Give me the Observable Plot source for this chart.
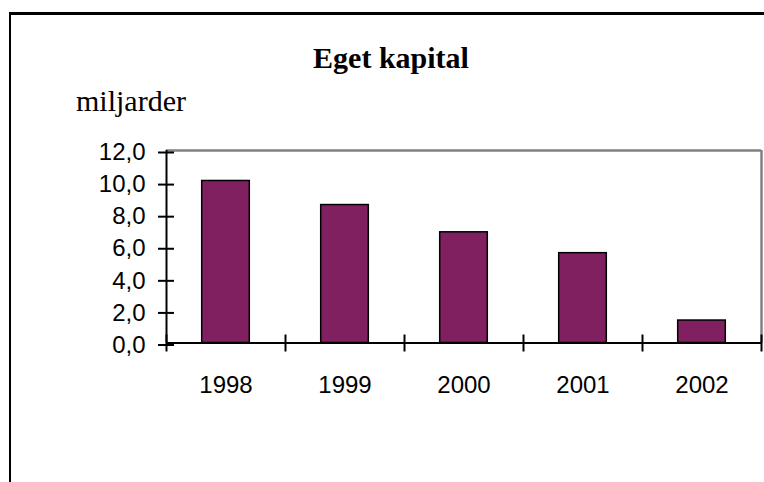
<!DOCTYPE html>
<html>
<head>
<meta charset="utf-8">
<script src="https://cdn.jsdelivr.net/npm/d3@7"></script>
<script src="https://cdn.jsdelivr.net/npm/@observablehq/plot@0.6"></script>
<style>
  html, body { margin: 0; padding: 0; background: #fff; }
  #wrap { position: relative; width: 764px; height: 482px; overflow: hidden; background: #fff; }
  #frame { position: absolute; left: 9px; top: 12px; width: 900px; height: 700px; border-left: 2px solid #000; border-top: 3px solid #000; box-sizing: border-box; }
  #title { position: absolute; left: 0; width: 782px; top: 40px; text-align: center; font-family: "Liberation Serif", "Times New Roman", serif; font-weight: bold; font-size: 30px; line-height: 36px; color: #000; }
  #unit { position: absolute; left: 76px; top: 83px; font-family: "Liberation Serif", "Times New Roman", serif; font-size: 30px; line-height: 36px; color: #000; }
  #chart { position: absolute; left: 0; top: 0; }
</style>
</head>
<body>
<div id="wrap">
  <div id="frame"></div>
  <div id="title">Eget kapital</div>
  <div id="unit">miljarder</div>
  <div id="chart"></div>
</div>
<script>
// Data
const years = ["1998", "1999", "2000", "2001", "2002"];
const values = [10.1, 8.6, 6.9, 5.6, 1.4];
const yTicks = [0, 2, 4, 6, 8, 10, 12];

const data = years.map((year, i) => ({ year, i, value: values[i] }));
const boundaries = d3.range(years.length + 1);
const centers = years.map((_, i) => i + 0.5);
const fmt = d => d.toFixed(1).replace(".", ",");

const chart = Plot.plot({
  width: 764,
  height: 482,
  marginLeft: 166,
  marginRight: 3,
  marginTop: 150,
  marginBottom: 139.5,
  style: { fontFamily: "'Liberation Sans', Arial, sans-serif", fontSize: "24px", color: "#000", background: "transparent", overflow: "visible" },
  x: { domain: [0, years.length], label: null },
  y: { domain: [0, 12], label: null },
  marks: [
    // gray plot-area border (top and right)
    Plot.ruleY([12], { stroke: "#808080", strokeWidth: 2.5 }),
    Plot.ruleX([years.length], { y1: 0, y2: 12, stroke: "#808080", strokeWidth: 2.5 }),
    // bars
    Plot.rectY(data, { x1: d => d.i + 0.3, x2: d => d.i + 0.7, y: "value", fill: "#802060", stroke: "#000", strokeWidth: 1.5 }),
    // axis lines
    Plot.ruleX([0], { y1: 0, y2: 12, stroke: "#000", strokeWidth: 2 }),
    Plot.ruleY([0], { stroke: "#000", strokeWidth: 2 }),
    // y axis: ticks crossing the axis line
    Plot.axisY({ ticks: yTicks, tickSize: 16, dx: 8, tickPadding: 13, tickFormat: fmt, strokeWidth: 2, fontSize: 24, dy: 2, label: null }),
    // x axis: ticks at category boundaries crossing the axis line
    Plot.axisX({ ticks: boundaries, tickSize: 17, dy: -8, tickFormat: () => "", strokeWidth: 2, label: null }),
    // x axis: year labels at category centers
    Plot.axisX({ ticks: centers, tickSize: 0, tickPadding: 32.5, tickFormat: d => years[Math.floor(d)], fontSize: 24, label: null })
  ]
});
document.getElementById("chart").appendChild(chart);
</script>
</body>
</html>
